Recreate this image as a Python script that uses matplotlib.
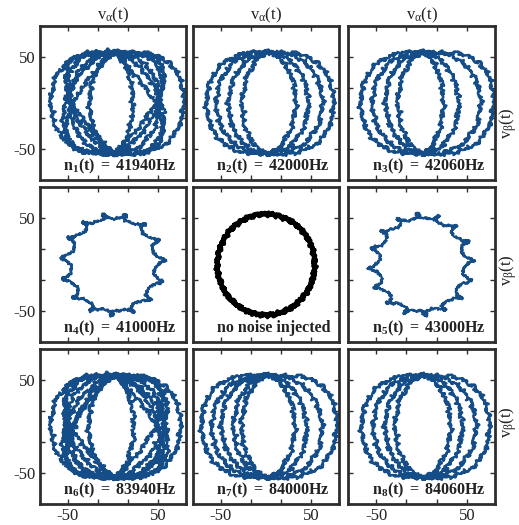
import numpy as np
import matplotlib.pyplot as plt

plt.rcParams["font.family"] = ["Liberation Serif", "DejaVu Serif"]
plt.rcParams["mathtext.fontset"] = "custom"
plt.rcParams["mathtext.rm"] = "Liberation Serif"
plt.rcParams["mathtext.it"] = "Liberation Serif:italic"
plt.rcParams["mathtext.bf"] = "Liberation Serif:bold"
plt.rcParams["axes.unicode_minus"] = False

TRACE_BLUE = "#154d88"
FRAME = "#2e2e2e"
V_PEAK = 55.0

# signed width of each half-turn of the trace at its upper and lower end
# (+ = right of centre, - = left of centre)
ARCS_41940 = [(-28, -28), (78, 75), (-75, -18), (15, 74), (-18, -75), (76, 15),
              (-72, -70), (50, 50), (-40, -70), (68, 30), (-66, -32), (35, 68),
              (-50, -50), (20, 20)]
ARCS_42000 = [(-68, -68), (73, 73), (-57, -57), (61, 60), (-42, -45), (45, 45),
              (-27, -30), (32, 30)]
ARCS_42060 = [(-69, -69), (79, 76), (-56, -56), (63, 63), (-43, -40), (38, 40),
              (-28, -28), (22, 22)]
ARCS_83940 = [(-29, -29), (74, 72), (-76, -20), (18, 74), (-20, -74), (72, 18),
              (-72, -70), (40, 72), (-38, -72), (72, 38), (-68, -38), (55, 55),
              (-55, -55), (35, 62), (-30, -60), (21, 21)]
ARCS_84000 = [(-75, -72), (78, 75), (-62, -62), (58, 62), (-53, -50), (41, 45),
              (-38, -38), (30, 30), (-29, -29)]
ARCS_84060 = [(-68, -68), (73, 73), (-55, -55), (58, 58), (-42, -42), (43, 43),
              (-31, -31), (30, 30)]

# ripple on the single-frequency cases: radius, ripple count, ripple size (alpha, beta)
RING_41000 = (52.0, 14, 6.0, 2.5)
RING_43000 = (52.0, 15, 6.0, 2.5)
RING_CLEAN = (54.0, 0, 0.0, 0.0)

# measurement jitter (cycles per radian of the trace, amplitude)
JIT_FREQ = [13.1, 27.7, 41.3, 58.9, 83.3, 109.7, 141.1, 173.9, 211.3]
JIT_AMP = [0.8, 0.8, 0.7, 0.7, 0.6, 0.55, 0.5, 0.45, 0.4]

LABELS = [
    r"$\mathbf{n_1(t)\ =\ 41940Hz}$",
    r"$\mathbf{n_2(t)\ =\ 42000Hz}$",
    r"$\mathbf{n_3(t)\ =\ 42060Hz}$",
    r"$\mathbf{n_4(t)\ =\ 41000Hz}$",
    "no noise injected",
    r"$\mathbf{n_5(t)\ =\ 43000Hz}$",
    r"$\mathbf{n_6(t)\ =\ 83940Hz}$",
    r"$\mathbf{n_7(t)\ =\ 84000Hz}$",
    r"$\mathbf{n_8(t)\ =\ 84060Hz}$",
]


def jitter(u, shift):
    out = np.zeros_like(u)
    for k, (f, a) in enumerate(zip(JIT_FREQ, JIT_AMP)):
        out += a * np.sin(f * u + shift * (k + 1) * 2.39)
    return out


def arc_trace(arcs, n=1500):
    xs, ys = [], []
    for j, (upper, lower) in enumerate(arcs):
        t = np.linspace(0, np.pi, n)
        if j % 2:
            t = t[::-1]
        h = np.cos(t)
        width = lower + (upper - lower) * (1 + h) / 2
        power = 1.71 - 0.0151 * np.abs(width)
        xs.append(2 + width * np.sin(t) ** power)
        ys.append(V_PEAK * h)
    x = np.concatenate(xs)
    y = np.concatenate(ys)
    u = np.linspace(0, len(arcs) * np.pi, len(x))
    return x + jitter(u, 0.7), y + 0.8 * jitter(u, 2.1)


def ring_trace(ring, n=6000, noise=1.0):
    radius, count, ra, rb = ring
    t = np.linspace(0, 2 * np.pi, n)
    x = radius * np.cos(t) + ra * np.sin(count * t + 0.4)
    y = radius * np.sin(t) + rb * np.cos(count * t + 0.4)
    return x + noise * jitter(3 * t, 1.3), y + noise * jitter(3 * t, 0.2)


fig = plt.figure(figsize=(5.19, 5.25), dpi=100)
W, H = 519, 525
col_px = [(40, 186), (193, 339), (348, 495)]
row_px = [(26, 180), (187, 342), (349, 504)]

traces = [
    (arc_trace(ARCS_41940), TRACE_BLUE, 1.8),
    (arc_trace(ARCS_42000), TRACE_BLUE, 1.8),
    (arc_trace(ARCS_42060), TRACE_BLUE, 1.8),
    (ring_trace(RING_41000, noise=0.5), TRACE_BLUE, 1.6),
    (ring_trace(RING_CLEAN, noise=0.7), "black", 2.6),
    (ring_trace(RING_43000, noise=0.5), TRACE_BLUE, 1.6),
    (arc_trace(ARCS_83940), TRACE_BLUE, 1.8),
    (arc_trace(ARCS_84000), TRACE_BLUE, 1.8),
    (arc_trace(ARCS_84060), TRACE_BLUE, 1.8),
]

ticks = [-50, -50 / 3, 50 / 3, 50]
for i, ((x, y), color, lw) in enumerate(traces):
    r, c = divmod(i, 3)
    x0, x1 = col_px[c]
    y0, y1 = row_px[r]
    ax = fig.add_axes([x0 / W, 1 - y1 / H, (x1 - x0) / W, (y1 - y0) / H])
    ax.plot(x, y, color=color, lw=lw, solid_joinstyle="round")
    ax.set_xlim(-81, 81)
    ax.set_ylim(-83, 83)
    ax.set_xticks(ticks)
    ax.set_yticks(ticks)
    ax.set_xticklabels(["-50", "", "", "50"] if r == 2 else [])
    ax.set_yticklabels(["-50", "", "", "50"] if c == 0 else [])
    ax.tick_params(direction="in", top=True, right=True, length=3.5, width=1,
                   colors=FRAME, labelsize=12, labelcolor="#222222", pad=3)
    for sp in ax.spines.values():
        sp.set_linewidth(2.0)
        sp.set_color(FRAME)
    ax.text(0.55, 0.09, LABELS[i], transform=ax.transAxes, ha="center", va="center",
            fontsize=11.5, fontweight="bold", color="#222222")
    if r == 0:
        ax.set_title(r"$\mathrm{v_{\alpha}(t)}$", fontsize=12, color="#222222", pad=5)

for yc in [123, 270, 422]:
    fig.text(508 / W, 1 - yc / H, r"$\mathrm{v_{\beta}(t)}$", rotation=90,
             ha="center", va="center", fontsize=12, color="#222222")

fig.savefig("out.png", dpi=100)
